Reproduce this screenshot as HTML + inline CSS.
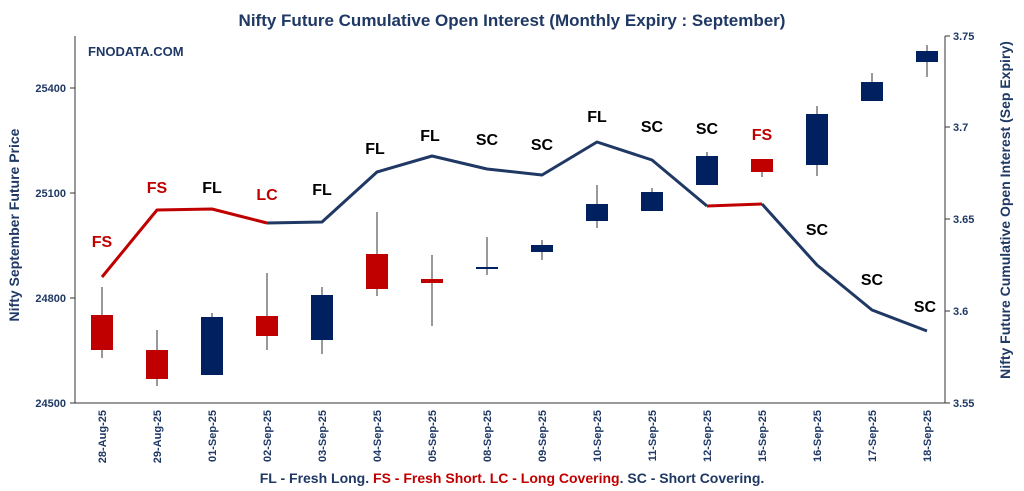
<!DOCTYPE html>
<html><head><style>body{margin:0;background:#fff}svg{display:block}</style></head><body>
<svg width="1024" height="491" xmlns="http://www.w3.org/2000/svg" font-family="Liberation Sans, sans-serif">
<rect width="1024" height="491" fill="#fff"/>
<text x="512" y="26" text-anchor="middle" font-size="17" font-weight="bold" fill="#1f3864">Nifty Future Cumulative Open Interest (Monthly Expiry : September)</text>
<text x="88" y="56" font-size="13" font-weight="bold" fill="#1f3864">FNODATA.COM</text>
<g stroke="#333" stroke-width="1">
<line x1="75" y1="36" x2="75" y2="403"/><line x1="945" y1="36" x2="945" y2="403"/><line x1="75" y1="403" x2="945" y2="403"/>
<line x1="70" y1="88" x2="75" y2="88"/><line x1="70" y1="193" x2="75" y2="193"/><line x1="70" y1="298" x2="75" y2="298"/><line x1="70" y1="403" x2="75" y2="403"/>
<line x1="945" y1="36" x2="950" y2="36"/><line x1="945" y1="127" x2="950" y2="127"/><line x1="945" y1="219" x2="950" y2="219"/><line x1="945" y1="311" x2="950" y2="311"/><line x1="945" y1="403" x2="950" y2="403"/>
</g>
<g font-size="11" font-weight="bold" fill="#1f3864" text-anchor="end">
<text x="66" y="92">25400</text><text x="66" y="197">25100</text><text x="66" y="302">24800</text><text x="66" y="407">24500</text>
</g>
<g font-size="11" font-weight="bold" fill="#1f3864">
<text x="953" y="40">3.75</text><text x="953" y="131">3.7</text><text x="953" y="223">3.65</text><text x="953" y="315">3.6</text><text x="953" y="407">3.55</text>
</g>
<text transform="translate(19,225) rotate(-90)" text-anchor="middle" font-size="14" font-weight="bold" fill="#1f3864">Nifty September Future Price</text>
<text transform="translate(1010,210) rotate(-90)" text-anchor="middle" font-size="14" font-weight="bold" fill="#1f3864">Nifty Future Cumulative Open Interest (Sep Expiry)</text>
<g font-size="11" font-weight="bold" fill="#1f3864" text-anchor="end">
<text transform="translate(106,410) rotate(-90)">28-Aug-25</text>
<text transform="translate(161,410) rotate(-90)">29-Aug-25</text>
<text transform="translate(216,410) rotate(-90)">01-Sep-25</text>
<text transform="translate(271,410) rotate(-90)">02-Sep-25</text>
<text transform="translate(326,410) rotate(-90)">03-Sep-25</text>
<text transform="translate(381,410) rotate(-90)">04-Sep-25</text>
<text transform="translate(436,410) rotate(-90)">05-Sep-25</text>
<text transform="translate(491,410) rotate(-90)">08-Sep-25</text>
<text transform="translate(546,410) rotate(-90)">09-Sep-25</text>
<text transform="translate(601,410) rotate(-90)">10-Sep-25</text>
<text transform="translate(656,410) rotate(-90)">11-Sep-25</text>
<text transform="translate(711,410) rotate(-90)">12-Sep-25</text>
<text transform="translate(766,410) rotate(-90)">15-Sep-25</text>
<text transform="translate(821,410) rotate(-90)">16-Sep-25</text>
<text transform="translate(876,410) rotate(-90)">17-Sep-25</text>
<text transform="translate(931,410) rotate(-90)">18-Sep-25</text>
</g>
<g stroke="#333" stroke-width="1">
<line x1="102" y1="287" x2="102" y2="358"/><line x1="157" y1="330" x2="157" y2="386"/><line x1="212" y1="313" x2="212" y2="375"/><line x1="267" y1="273" x2="267" y2="350"/>
<line x1="322" y1="287" x2="322" y2="354"/><line x1="377" y1="212" x2="377" y2="296"/><line x1="432" y1="255" x2="432" y2="326"/><line x1="487" y1="237" x2="487" y2="275"/>
<line x1="542" y1="240" x2="542" y2="260"/><line x1="597" y1="185" x2="597" y2="228"/><line x1="652" y1="188" x2="652" y2="211"/><line x1="707" y1="152" x2="707" y2="185"/>
<line x1="762" y1="159" x2="762" y2="177"/><line x1="817" y1="106" x2="817" y2="176"/><line x1="872" y1="73" x2="872" y2="101"/><line x1="927" y1="45" x2="927" y2="77"/>
</g>
<g>
<rect x="91" y="315" width="22" height="35" fill="#c00000"/>
<rect x="146" y="350" width="22" height="29" fill="#c00000"/>
<rect x="201" y="317" width="22" height="58" fill="#002060"/>
<rect x="256" y="316" width="22" height="20" fill="#c00000"/>
<rect x="311" y="295" width="22" height="45" fill="#002060"/>
<rect x="366" y="254" width="22" height="35" fill="#c00000"/>
<rect x="421" y="279" width="22" height="4" fill="#c00000"/>
<rect x="476" y="267" width="22" height="2" fill="#002060"/>
<rect x="531" y="245" width="22" height="7" fill="#002060"/>
<rect x="586" y="204" width="22" height="17" fill="#002060"/>
<rect x="641" y="192" width="22" height="19" fill="#002060"/>
<rect x="696" y="156" width="22" height="29" fill="#002060"/>
<rect x="751" y="159" width="22" height="13" fill="#c00000"/>
<rect x="806" y="114" width="22" height="51" fill="#002060"/>
<rect x="861" y="82" width="22" height="19" fill="#002060"/>
<rect x="916" y="51" width="22" height="11" fill="#002060"/>
</g>
<g fill="none" stroke-width="3" stroke-linejoin="round">
<polyline stroke="#c00000" points="102,277 157,210 212,209 267,223"/>
<polyline stroke="#1f3864" points="267,223 322,222 377,172 432,156 487,169 542,175 597,142 652,160 707,206"/>
<polyline stroke="#c00000" points="707,206 762,204"/>
<polyline stroke="#1f3864" points="762,204 817,265 872,310 927,331"/>
</g>
<g font-size="16" font-weight="bold" text-anchor="middle">
<text x="102" y="247" fill="#c00000">FS</text>
<text x="157" y="193" fill="#c00000">FS</text>
<text x="212" y="193" fill="#000">FL</text>
<text x="267" y="200" fill="#c00000">LC</text>
<text x="322" y="195" fill="#000">FL</text>
<text x="375" y="154" fill="#000">FL</text>
<text x="430" y="141" fill="#000">FL</text>
<text x="487" y="145" fill="#000">SC</text>
<text x="542" y="150" fill="#000">SC</text>
<text x="597" y="122" fill="#000">FL</text>
<text x="652" y="132" fill="#000">SC</text>
<text x="707" y="134" fill="#000">SC</text>
<text x="762" y="140" fill="#c00000">FS</text>
<text x="817" y="235" fill="#000">SC</text>
<text x="872" y="285" fill="#000">SC</text>
<text x="925" y="312" fill="#000">SC</text>
</g>
<text x="512" y="483" text-anchor="middle" font-size="14" font-weight="bold"><tspan fill="#1f3864">FL - Fresh Long. </tspan><tspan fill="#c00000">FS - Fresh Short. LC - Long Covering</tspan><tspan fill="#1f3864">. SC - Short Covering.</tspan></text>
</svg>
</body></html>
